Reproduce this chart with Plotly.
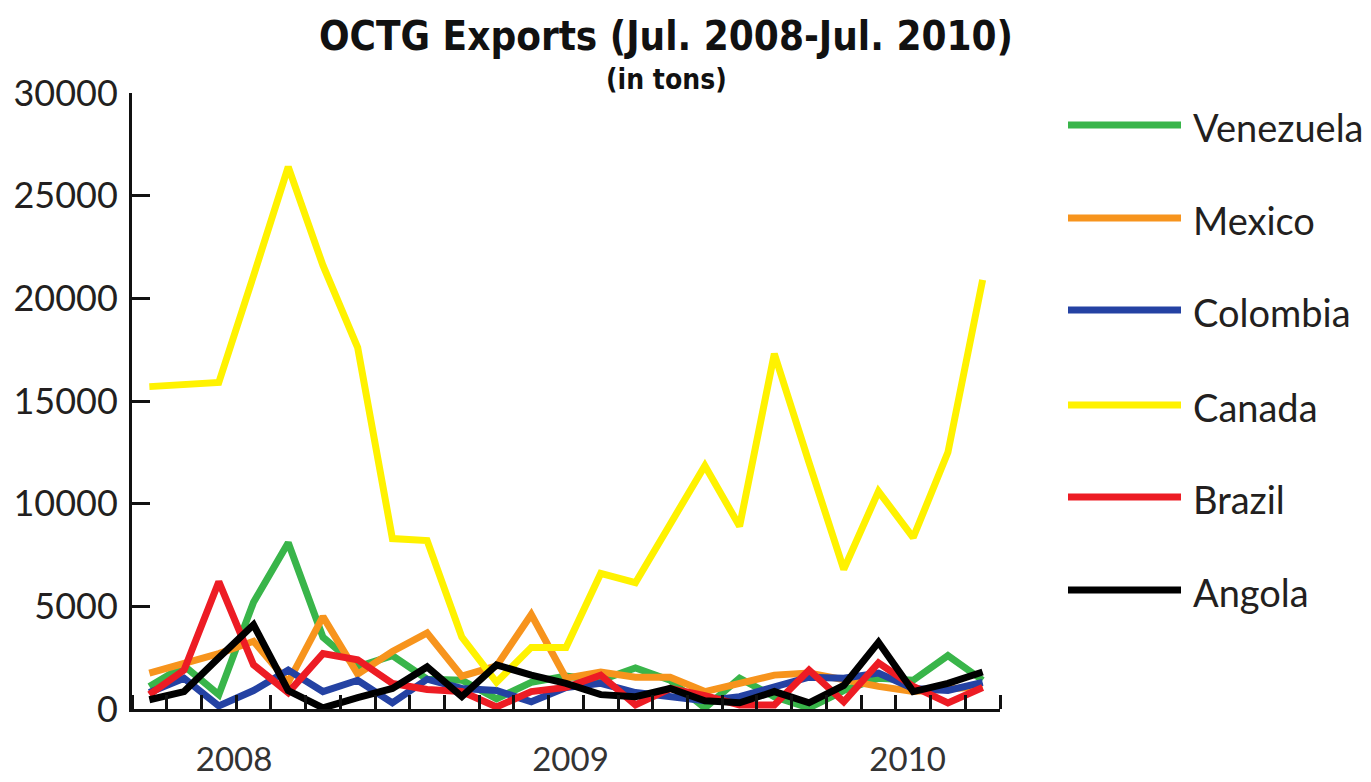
import plotly.graph_objects as go

months = ["Jul 2008", "Aug 2008", "Sep 2008", "Oct 2008", "Nov 2008", "Dec 2008",
          "Jan 2009", "Feb 2009", "Mar 2009", "Apr 2009", "May 2009", "Jun 2009",
          "Jul 2009", "Aug 2009", "Sep 2009", "Oct 2009", "Nov 2009", "Dec 2009",
          "Jan 2010", "Feb 2010", "Mar 2010", "Apr 2010", "May 2010", "Jun 2010", "Jul 2010"]

venezuela = [1100, 2100, 700, 5200, 8100, 3500, 2050, 2600, 1450, 1400, 500, 1300, 1600,
             1400, 2000, 1400, 50, 1500, 600, 50, 900, 1500, 1400, 2600, 1400]
mexico = [1750, 2250, 2700, 3300, 1300, 4500, 1700, 2800, 3700, 1600, 2100, 4600, 1500,
          1800, 1550, 1550, 850, 1250, 1650, 1750, 1400, 1100, 850, 1000, 1100]
colombia = [800, 1500, 150, 900, 1900, 850, 1400, 300, 1450, 1000, 900, 350, 1050,
            1250, 800, 600, 400, 600, 1050, 1550, 1500, 1750, 1000, 900, 1300]
canada = [15700, 15800, 15900, 21100, 26400, 21600, 17600, 8300, 8200, 3500, 1300, 3000, 3000,
          6600, 6150, 9000, 11850, 8900, 17300, 12000, 6800, 10600, 8350, 12500, 20900]
brazil = [700, 1900, 6200, 2150, 800, 2700, 2400, 1250, 950, 850, 100, 850, 1050,
          1650, 200, 1000, 650, 200, 200, 1900, 350, 2250, 1100, 300, 1050]
angola = [450, 850, 2500, 4100, 900, 50, 550, 1000, 2050, 600, 2150, 1650, 1250,
          700, 600, 1000, 400, 300, 850, 300, 1150, 3250, 850, 1250, 1800]

series_names = ["Venezuela", "Mexico", "Colombia", "Canada", "Brazil", "Angola"]
series_values = [venezuela, mexico, colombia, canada, brazil, angola]
series_colors = ["#39B54A", "#F7941D", "#2442A3", "#FFF200", "#ED1C24", "#000000"]

year_labels = ["2008", "2009", "2010"]
year_positions = [2.44, 12.13, 21.84]
y_ticks = [0, 5000, 10000, 15000, 20000, 25000, 30000]

x_idx = list(range(len(months)))

W, H = 1371, 782
L, R, T, B = 132, 1000, 93, 709

fig = go.Figure()
for name, vals, col in zip(series_names, series_values, series_colors):
    fig.add_trace(go.Scatter(
        x=x_idx, y=vals, name=name, mode="lines",
        line=dict(color=col, width=7),
        customdata=months,
        hovertemplate="%{customdata}: %{y} tons<extra>" + name + "</extra>",
        showlegend=False,
    ))

def px_x(p):
    return (p - L) / (R - L)

def px_y(p):
    return (B - p) / (B - T)

# manual legend (long sample lines)
legend_y_px = [125, 218, 310, 405, 497, 590]
for name, col, ypx in zip(series_names, series_colors, legend_y_px):
    fig.add_shape(type="line", xref="paper", yref="paper",
                  x0=px_x(1068), x1=px_x(1181), y0=px_y(ypx), y1=px_y(ypx),
                  line=dict(color=col, width=7))
    fig.add_annotation(xref="paper", yref="paper", x=px_x(1191), y=px_y(ypx + 2),
                       text=name, showarrow=False, xanchor="left", yanchor="middle",
                       font=dict(family="Lato, Open Sans, sans-serif", size=38, color="#231F20"))

fig.add_annotation(xref="paper", yref="paper", x=px_x(666), y=px_y(79),
                   text="<b>(in tons)</b>", showarrow=False, xanchor="center", yanchor="middle",
                   font=dict(family="DejaVu Sans Condensed, sans-serif",
                             size=28, color="#111111"))

fig.update_layout(
    width=W, height=H, autosize=False,
    margin=dict(l=L, r=W - R, t=T, b=H - B, pad=0, autoexpand=False),
    paper_bgcolor="white", plot_bgcolor="white",
    title=dict(text="<b>OCTG Exports (Jul. 2008-Jul. 2010)</b>",
               x=666 / W, xanchor="center", y=1 - 36 / H, yanchor="middle",
               xref="container", yref="container",
               font=dict(family="DejaVu Sans Condensed, sans-serif",
                         size=40, color="#111111")),
    font=dict(family="Lato, Open Sans, sans-serif", color="#231F20"),
    xaxis=dict(
        range=[-0.5, 24.5], showgrid=False, zeroline=False, automargin=False,
        showline=True, linecolor="#111111", linewidth=3,
        tickvals=year_positions, ticktext=year_labels, ticks="",
        tickfont=dict(family="Lato, sans-serif", size=33, color="#333333"),
        ticklabelstandoff=19,
        minor=dict(tick0=-0.5, dtick=1, ticks="inside", ticklen=14, tickwidth=3,
                   tickcolor="#111111", showgrid=False),
        fixedrange=True,
    ),
    yaxis=dict(
        range=[0, 30000], showgrid=False, zeroline=False, automargin=False,
        showline=True, linecolor="#111111", linewidth=3,
        tickvals=y_ticks, ticktext=[str(v) for v in y_ticks],
        ticks="inside", ticklen=18, tickwidth=3, tickcolor="#111111",
        tickfont=dict(family="Lato, Open Sans, sans-serif", size=36, color="#231F20"),
        ticklabelstandoff=4,
        fixedrange=True,
    ),
)

fig.write_html("out.html", config={"displayModeBar": False},
               post_script="document.body.style.margin='0';document.body.style.overflow='hidden';")
